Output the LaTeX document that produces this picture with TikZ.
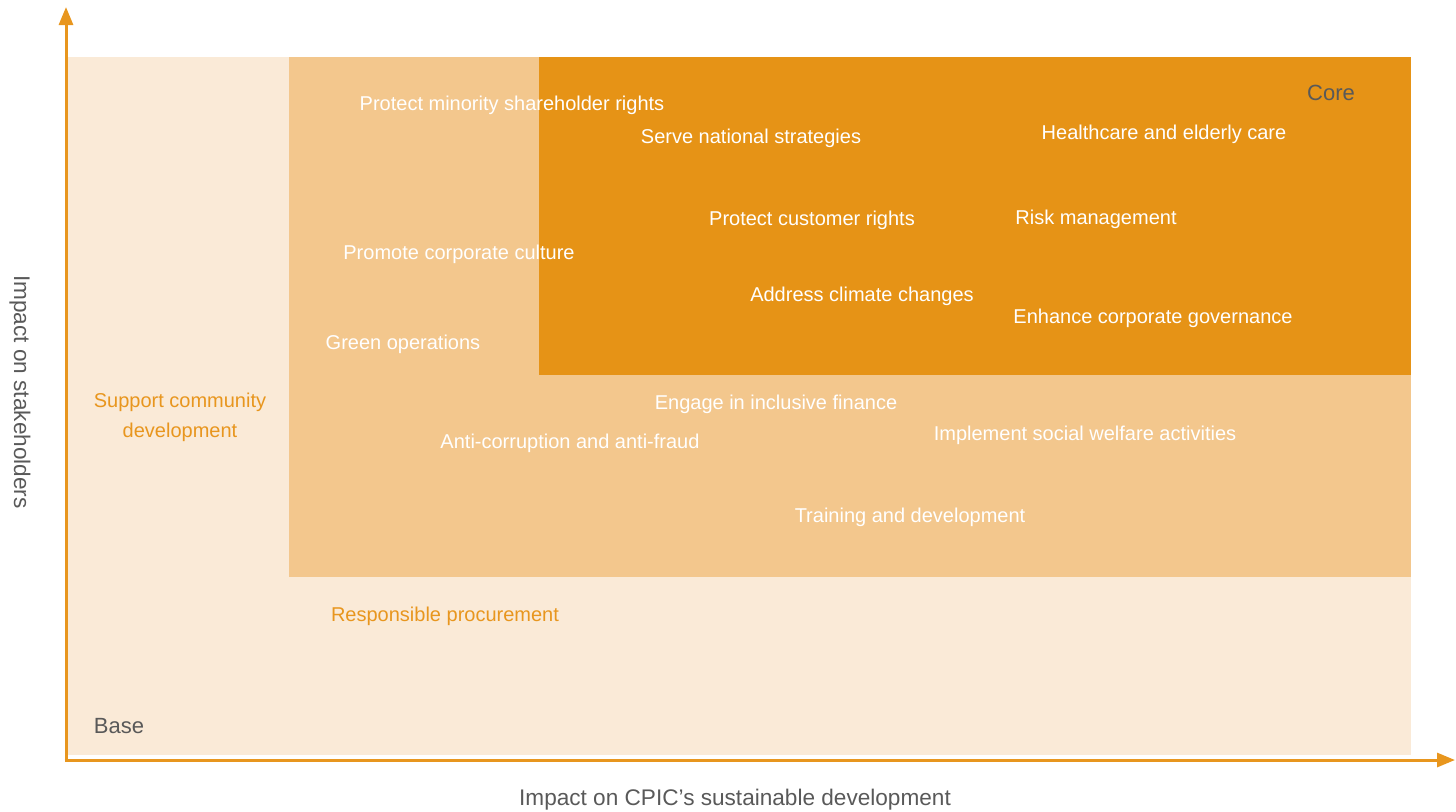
\documentclass[tikz,border=0pt]{standalone}
\usepackage{fontspec}
\setmainfont{Liberation Sans}
\usepackage{xcolor}
\usetikzlibrary{arrows.meta}
\definecolor{deep}{HTML}{E69316}
\definecolor{mid}{HTML}{F3C78D}
\definecolor{pale}{HTML}{FAEAD7}
\definecolor{axisc}{HTML}{E8961E}
\definecolor{greyt}{HTML}{595959}
\tikzset{
  zone/.style={draw=none},
  axisline/.style={draw=axisc, line width=1.5pt, -{Triangle[length=9pt,width=7pt]}},
  item/.style={text=white, font=\fontsize{10}{12}\selectfont, inner sep=0pt},
  edge/.style={text=axisc, font=\fontsize{10}{15}\selectfont, inner sep=0pt, align=center},
  tier/.style={text=greyt, font=\fontsize{11}{13}\selectfont, inner sep=0pt},
  axlab/.style={text=greyt, font=\fontsize{11.3}{13}\selectfont, inner sep=0pt},
}

\begin{document}
\begin{tikzpicture}[x=0.5pt,y=-0.5pt]
  \useasboundingbox (0,0) rectangle (1456,811);

  % three nested zones
  \fill[pale,zone] (67,57) rectangle (1411,755);
  \fill[mid,zone] (289,57) rectangle (1411,577);
  \fill[deep,zone] (539,57) rectangle (1411,375);

  % axes
  \coordinate (O) at (66,760);
  \coordinate (Ytop) at (66,7);
  \coordinate (Xend) at (1455,760);
  \draw[axisline] (66,761.5) -- (Ytop);
  \draw[axisline] (64.5,760) -- (Xend);

  % core zone
  \node[tier] (core) at (1331,93) {Core};
  \node[item] (minority) at (512,105) {Protect minority shareholder rights};
  \node[item] (national) at (751,138) {Serve national strategies};
  \node[item] (health) at (1164,134) {Healthcare and elderly care};
  \node[item] (customer) at (812,220) {Protect customer rights};
  \node[item] (risk) at (1096,219) {Risk management};
  \node[item] (culture) at (459,254) {Promote corporate culture};
  \node[item] (climate) at (862,296) {Address climate changes};
  \node[item] (governance) at (1153,318) {Enhance corporate governance};
  \node[item] (green) at (403,344) {Green operations};

  % middle zone
  \node[item] (inclusive) at (776,404) {Engage in inclusive finance};
  \node[item] (fraud) at (570,443) {Anti-corruption and anti-fraud};
  \node[item] (welfare) at (1085,435) {Implement social welfare activities};
  \node[item] (training) at (910,517) {Training and development};

  % base zone
  \node[edge] (community) at (180,417) {Support community\\development};
  \node[edge] (procure) at (445,616) {Responsible procurement};
  \node[tier] (base) at (119,726) {Base};

  % axis labels
  \node[axlab] (xlab) at (735,800) {Impact on CPIC’s sustainable development};
  \node[axlab, rotate=-90] (ylab) at (20,392) {Impact on stakeholders};
\end{tikzpicture}
\end{document}
